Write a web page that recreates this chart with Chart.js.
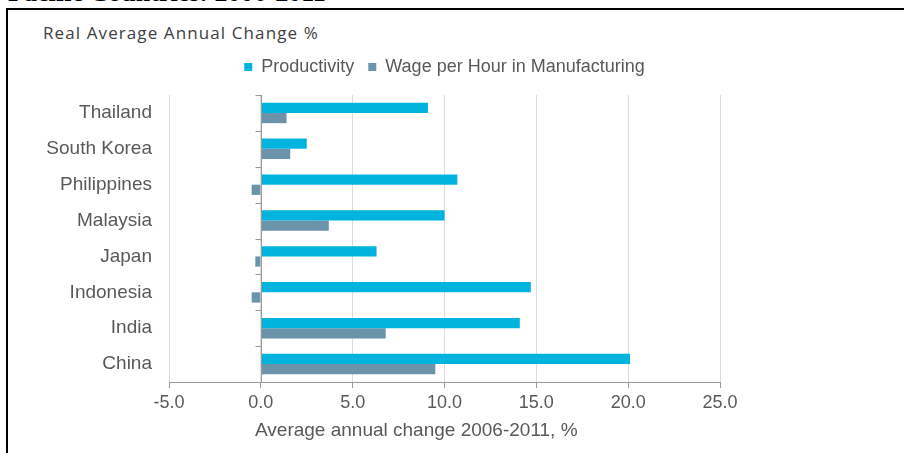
<!DOCTYPE html>
<html>
<head>
<meta charset="utf-8">
<script src="https://cdn.jsdelivr.net/npm/chart.js@4"></script>
<style>
  body { margin: 0; background: #fff; width: 904px; height: 453px; overflow: hidden; position: relative; }
  #topTitle { position: absolute; left: 8px; top: -22px; font: bold 26px "Liberation Serif", serif; color: #000; white-space: nowrap; }
  #frame { position: absolute; left: 6px; top: 8px; width: 910px; height: 460px; border-left: 2px solid #000; border-top: 2px solid #000; background: #fff; }
  #subTitle { position: absolute; left: 43px; top: 21px; font: 17px "Open Sans", sans-serif; letter-spacing: 1.1px; color: #404040; white-space: nowrap; }
  #xTitle { position: absolute; left: 255px; top: 419px; font: 19px "Liberation Sans", Arial, sans-serif; color: #595959; white-space: nowrap; }
  #wrap { position: absolute; left: 8px; top: 44px; width: 896px; height: 378px; }
</style>
</head>
<body>
<div id="topTitle">Pacific Countries: 2006-2011</div>
<div id="frame"></div>
<div id="subTitle">Real Average Annual Change %</div>
<div id="wrap"><canvas id="chart"></canvas></div>
<div id="xTitle">Average annual change 2006-2011, %</div>
<script>
const countries = ["Thailand", "South Korea", "Philippines", "Malaysia", "Japan", "Indonesia", "India", "China"];
const productivity = [9.1, 2.5, 10.7, 10.0, 6.3, 14.7, 14.1, 20.1];
const wages = [1.4, 1.6, -0.5, 3.7, -0.3, -0.5, 6.8, 9.5];
const seriesNames = ["Productivity", "Wage per Hour in Manufacturing"];
const xMin = -5, xMax = 25, xStep = 5;

const labelFont = { family: "'Liberation Sans', Arial, sans-serif", size: 18 };
const textColor = "#595959";

// extra room under the legend
const legendGap = {
  id: "legendGap",
  beforeInit(chart) {
    const fit = chart.legend.fit;
    chart.legend.fit = function () {
      fit.call(this);
      this.height += 9;
    };
  }
};

// y axis line drawn at zero, with small category ticks on its left
const zeroAxis = {
  id: "zeroAxis",
  afterDatasetsDraw(chart) {
    const x = chart.scales.x, y = chart.scales.y;
    const ctx = chart.ctx;
    const x0 = Math.round(x.getPixelForValue(0)) + 0.5;
    ctx.save();
    ctx.strokeStyle = "#9a9a9a";
    ctx.lineWidth = 1;
    ctx.beginPath();
    ctx.moveTo(x0, y.top);
    ctx.lineTo(x0, y.bottom);
    for (let i = 0; i <= countries.length; i++) {
      const py = Math.round(y.getPixelForValue(i - 0.5)) + 0.5;
      ctx.moveTo(x0 - 6, py);
      ctx.lineTo(x0, py);
    }
    ctx.stroke();
    ctx.restore();
  }
};

new Chart(document.getElementById("chart"), {
  type: "bar",
  data: {
    labels: countries,
    datasets: [
      { label: seriesNames[0], data: productivity, backgroundColor: "#00b4de" },
      { label: seriesNames[1], data: wages, backgroundColor: "#6b93aa" }
    ]
  },
  options: {
    indexAxis: "y",
    responsive: true,
    maintainAspectRatio: false,
    animation: false,
    layout: { padding: { left: 0, right: 184, top: 0, bottom: 0 } },
    datasets: { bar: { categoryPercentage: 0.57, barPercentage: 1 } },
    plugins: {
      legend: {
        fullSize: false,
        labels: {
          font: labelFont,
          color: textColor,
          boxWidth: 8,
          boxHeight: 8,
          padding: 14
        }
      },
      tooltip: { enabled: false }
    },
    scales: {
      x: {
        min: xMin,
        max: xMax,
        ticks: {
          stepSize: xStep,
          font: labelFont,
          color: textColor,
          padding: 4,
          callback: v => v.toFixed(1)
        },
        grid: {
          color: "#dcdcdc",
          tickColor: "#9a9a9a",
          tickLength: 6
        },
        border: { color: "#9a9a9a" },
        afterFit(s) { s.height = 40; }
      },
      y: {
        ticks: { font: { family: labelFont.family, size: 19 }, color: textColor, padding: 17 },
        grid: { display: false, drawTicks: false },
        border: { display: false },
        afterFit(s) { s.width = 161; }
      }
    }
  },
  plugins: [legendGap, zeroAxis]
});
</script>
</body>
</html>
